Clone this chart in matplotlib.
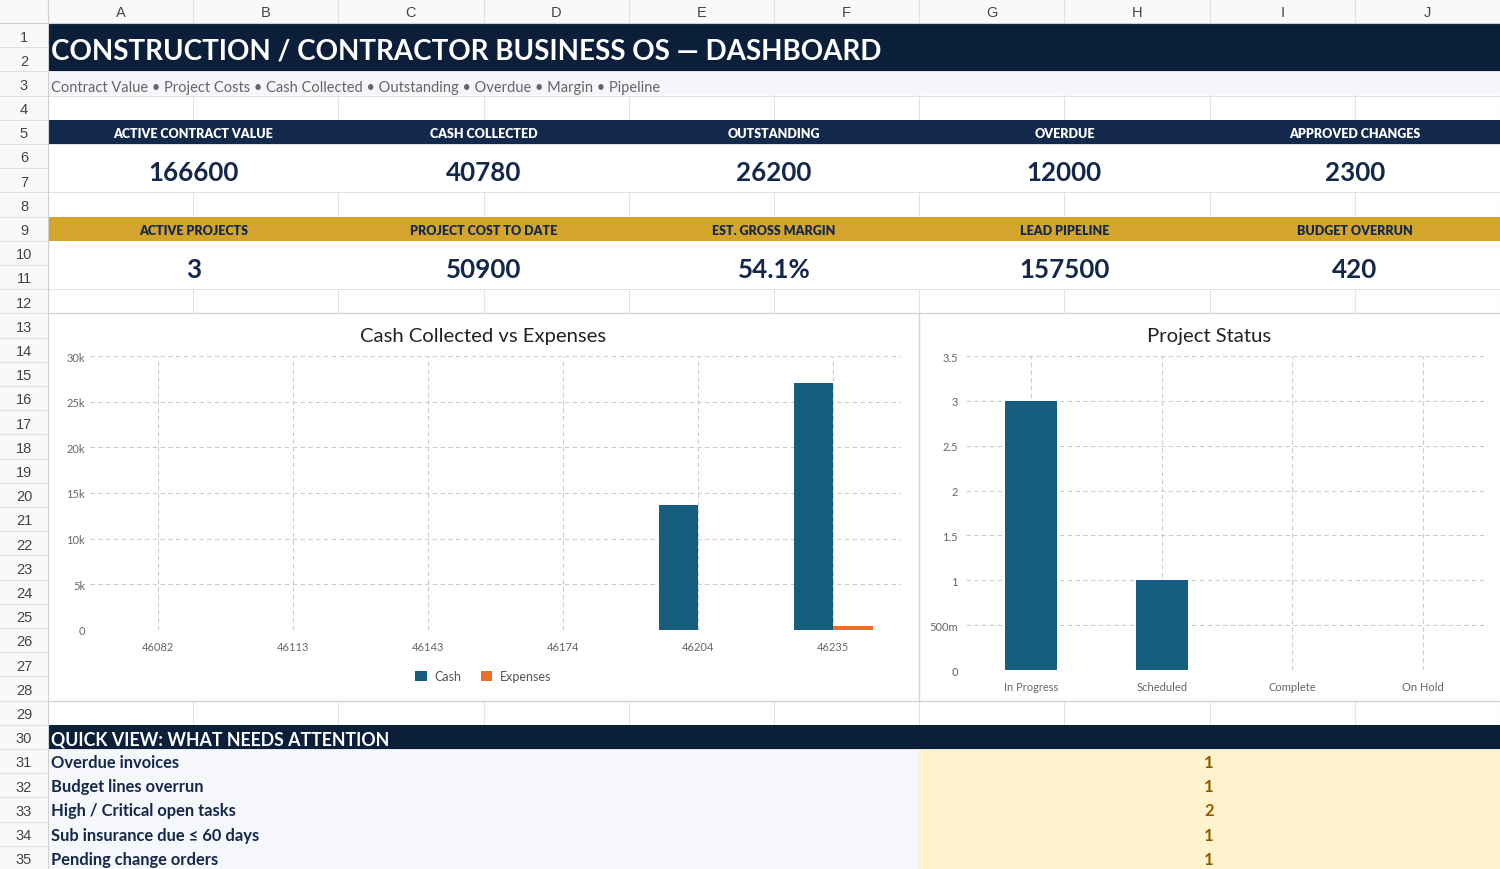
import matplotlib
matplotlib.use("Agg")
import matplotlib.pyplot as plt
from matplotlib.patches import Rectangle
from matplotlib.ticker import FuncFormatter
import numpy as np

plt.rcParams['font.family'] = ['Lato', 'DejaVu Sans']

# ---- data ----
title = "CONSTRUCTION / CONTRACTOR BUSINESS OS — DASHBOARD"
subtitle = "Contract Value • Project Costs • Cash Collected • Outstanding • Overdue • Margin • Pipeline"
col_letters = ["A", "B", "C", "D", "E", "F", "G", "H", "I", "J"]

kpi_labels_1 = ["ACTIVE CONTRACT VALUE", "CASH COLLECTED", "OUTSTANDING", "OVERDUE", "APPROVED CHANGES"]
kpi_values_1 = ["166600", "40780", "26200", "12000", "2300"]
kpi_labels_2 = ["ACTIVE PROJECTS", "PROJECT COST TO DATE", "EST. GROSS MARGIN", "LEAD PIPELINE", "BUDGET OVERRUN"]
kpi_values_2 = ["3", "50900", "54.1%", "157500", "420"]

cash_dates = ["46082", "46113", "46143", "46174", "46204", "46235"]
cash_values = [0, 0, 0, 0, 13700, 27080]
expense_values = [0, 0, 0, 0, 0, 420]

status_labels = ["In Progress", "Scheduled", "Complete", "On Hold"]
status_counts = [3, 1, 0, 0]

attention_labels = ["Overdue invoices", "Budget lines overrun", "High / Critical open tasks",
                    "Sub insurance due ≤ 60 days", "Pending change orders"]
attention_counts = [1, 1, 2, 1, 1]

# ---- colours ----
NAVY = "#0b1f3a"
NAVY2 = "#13294b"
GOLD = "#d4a52c"
BLUE = "#155e80"
ORANGE = "#e8702a"
GRIDC = "#e3e3e3"

W, H = 1500, 870
fig = plt.figure(figsize=(15, 8.7), dpi=100)
bg = fig.add_axes([0, 0, 1, 1])
bg.set_xlim(0, W)
bg.set_ylim(H, 0)
bg.axis("off")

def row_top(n):
    return 24 + (n - 1) * 24.2

def col_x(i):
    return 48 + i * 145.2

def rect(x0, y0, x1, y1, color, z=1, ec="none", lw=0):
    bg.add_patch(Rectangle((x0, y0), x1 - x0, y1 - y0, facecolor=color, edgecolor=ec, lw=lw, zorder=z))

# sheet grid
rect(0, 0, W, H, "white", z=0)
for i in range(11):
    bg.plot([col_x(i), col_x(i)], [0, H], color=GRIDC, lw=0.8, zorder=0.5)
for n in range(1, 37):
    bg.plot([0, W], [row_top(n), row_top(n)], color=GRIDC, lw=0.8, zorder=0.5)

# headers
rect(0, 0, W, 24, "#f8f9fa", z=2)
rect(0, 0, 48, H, "#f8f9fa", z=2)
for i in range(11):
    bg.plot([col_x(i), col_x(i)], [0, 24], color="#e0e0e0", lw=0.8, zorder=2.5)
for n in range(1, 37):
    bg.plot([0, 48], [row_top(n), row_top(n)], color="#e0e0e0", lw=0.8, zorder=2.5)
bg.plot([48, 48], [0, H], color="#d0d0d0", lw=0.8, zorder=2.6)
bg.plot([0, W], [24, 24], color="#d0d0d0", lw=0.8, zorder=2.6)
for i, c in enumerate(col_letters):
    bg.text((col_x(i) + col_x(i + 1)) / 2, 13, c, ha="center", va="center", fontsize=10.5,
            color="#444444", family="Liberation Sans", zorder=3)
for n in range(1, 36):
    bg.text(24, row_top(n) + 13.5, str(n), ha="center", va="center", fontsize=10.5,
            color="#444444", family="Liberation Sans", zorder=3)

# title banner
rect(48, row_top(1), W, row_top(3), NAVY, z=2)
bg.text(51, (row_top(1) + row_top(3)) / 2 + 3, title, ha="left", va="center", fontsize=20,
        fontweight="bold", color="white", zorder=3)
rect(48, row_top(3) + 0.5, W, row_top(4) - 0.5, "#f4f6f9", z=2)
bg.text(51, row_top(3) + 15.5, subtitle, ha="left", va="center", fontsize=10.5, color="#666666", zorder=3)

# KPI blocks
def kpi_block(r_head, labels, values, head_color, head_text):
    rect(48, row_top(r_head), W, row_top(r_head + 1), head_color, z=2)
    rect(48, row_top(r_head + 1) + 0.5, W, row_top(r_head + 3) - 0.5, "white", z=2)
    for k in range(5):
        cx = (col_x(2 * k) + col_x(2 * k + 2)) / 2
        bg.text(cx, row_top(r_head) + 13, labels[k], ha="center", va="center", fontsize=9,
                fontweight="heavy", color=head_text, zorder=3)
        bg.text(cx, row_top(r_head + 1) + 28, values[k], ha="center", va="center", fontsize=18.7,
                fontweight="bold", color="#14284b", zorder=3)

kpi_block(5, kpi_labels_1, kpi_values_1, NAVY2, "white")
kpi_block(9, kpi_labels_2, kpi_values_2, GOLD, "#14284b")

# chart frames
rect(48, row_top(13), W, row_top(29), "white", z=2)
bg.plot([col_x(6), col_x(6)], [row_top(13), row_top(29)], color="#d6d6d6", lw=1, zorder=2.5)
bg.plot([48, W], [row_top(13), row_top(13)], color="#d6d6d6", lw=1, zorder=2.5)
bg.plot([48, W], [row_top(29), row_top(29)], color="#d6d6d6", lw=1, zorder=2.5)
bg.text(483, 337, "Cash Collected vs Expenses", ha="center", va="center", fontsize=14.6, color="#222222", zorder=3)
bg.text(1209, 337, "Project Status", ha="center", va="center", fontsize=14.6, color="#222222", zorder=3)

# quick view
rect(48, row_top(30), W, row_top(31), NAVY, z=2)
bg.text(51, row_top(30) + 14, "QUICK VIEW: WHAT NEEDS ATTENTION", ha="left", va="center", fontsize=12.8,
        fontweight="bold", color="white", zorder=3)
rect(48, row_top(31) + 0.5, col_x(6), H, "#f5f7fa", z=2)
rect(col_x(6), row_top(31) + 0.5, W, H, "#fff2cc", z=2)
for k, (lab, cnt) in enumerate(zip(attention_labels, attention_counts)):
    yc = row_top(31 + k) + 13
    bg.text(51, yc, lab, ha="left", va="center", fontsize=11.9, fontweight="bold", color="#14284b", zorder=3)
    bg.text(1209, yc, str(cnt), ha="center", va="center", fontsize=12, fontweight="bold",
            color="#8c5c00", zorder=3)

def add_ax(x0, y0, x1, y1):
    return fig.add_axes([x0 / W, 1 - y1 / H, (x1 - x0) / W, (y1 - y0) / H])

def style(ax):
    for s in ax.spines.values():
        s.set_visible(False)
    ax.set_facecolor("none")
    ax.tick_params(length=0, labelsize=8, labelcolor="#666666")
    ax.grid(True, color="#cccccc", lw=0.8, linestyle=(0, (4, 3)))
    ax.set_axisbelow(True)

# cash chart
ax1 = add_ax(90, 357, 901, 631)
x = np.arange(len(cash_dates))
bw = 0.29
b1 = ax1.bar(x - bw / 2, cash_values, bw, color=BLUE, label="Cash", zorder=3)
b2 = ax1.bar(x + bw / 2, expense_values, bw, color=ORANGE, label="Expenses", zorder=3)
ax1.set_xlim(-0.5, len(cash_dates) - 0.5)
ax1.set_ylim(0, 30000)
ax1.set_yticks(np.arange(0, 30001, 5000))
ax1.yaxis.set_major_formatter(FuncFormatter(lambda v, p: "0" if v == 0 else f"{int(v / 1000)}k"))
ax1.set_xticks(x)
ax1.set_xticklabels(cash_dates)
style(ax1)
ax1.tick_params(axis="y", pad=3.5)
ax1.tick_params(axis="x", pad=8)
ax1.yaxis.get_gridlines()[0].set_visible(False)
ax1.legend(handles=[b1, b2], loc="center", bbox_to_anchor=(0.485, -0.168), ncol=2,
           frameon=False, fontsize=9, labelcolor="#555555", handlelength=0.9, handleheight=0.9,
           columnspacing=1.6, handletextpad=0.6)

# status chart
ax2 = add_ax(966, 357, 1488, 671)
x2 = np.arange(len(status_labels))
ax2.bar(x2, status_counts, 0.4, color=BLUE, zorder=3)
ax2.set_xlim(-0.5, len(status_labels) - 0.5)
ax2.set_ylim(0, 3.5)
ax2.set_yticks(np.arange(0, 3.51, 0.5))
ax2.yaxis.set_major_formatter(FuncFormatter(
    lambda v, p: "0" if v == 0 else ("500m" if v == 0.5 else f"{v:g}")))
ax2.set_xticks(x2)
ax2.set_xticklabels(status_labels)
style(ax2)
ax2.tick_params(axis="y", pad=6)
ax2.tick_params(axis="x", pad=8)
ax2.yaxis.get_gridlines()[0].set_visible(False)

fig.savefig("out.png", dpi=100)
